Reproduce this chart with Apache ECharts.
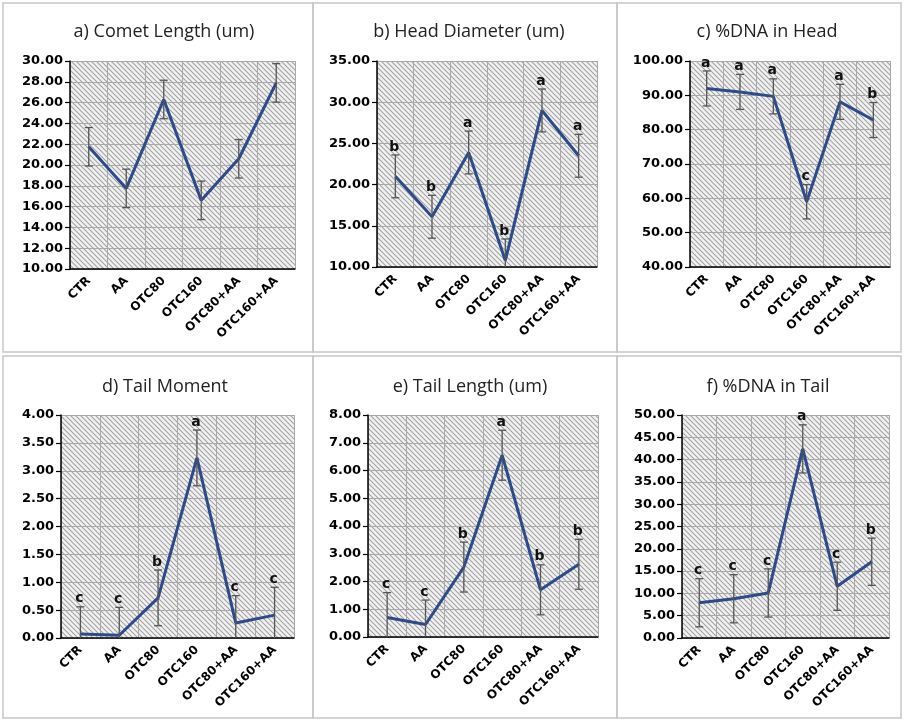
<!DOCTYPE html>
<html>
<head>
<meta charset="utf-8">
<script src="https://cdn.jsdelivr.net/npm/echarts@6/dist/echarts.min.js"></script>
<style>
  html, body { margin: 0; padding: 0; background: #ffffff; }
  #chart { width: 904px; height: 724px; }
</style>
</head>
<body>
<div id="chart"></div>
<script>
// Treatment groups shared by all six panels
const categories = ['CTR', 'AA', 'OTC80', 'OTC160', 'OTC80+AA', 'OTC160+AA'];

// a) Comet length (um)
const cometLength   = [21.75, 17.75, 26.3, 16.6, 20.6, 27.9];
const cometLengthSD = [1.85, 1.85, 1.85, 1.85, 1.85, 1.85];
const cometLengthSig = ['', '', '', '', '', ''];

// b) Head diameter (um)
const headDiameter   = [21.0, 16.1, 23.9, 10.8, 29.0, 23.5];
const headDiameterSD = [2.6, 2.6, 2.6, 2.6, 2.6, 2.6];
const headDiameterSig = ['b', 'b', 'a', 'b', 'a', 'a'];

// c) %DNA in head
const dnaHead   = [92.0, 91.0, 89.7, 59.0, 88.1, 82.8];
const dnaHeadSD = [5.1, 5.1, 5.1, 5.0, 5.1, 5.1];
const dnaHeadSig = ['a', 'a', 'a', 'c', 'a', 'b'];

// d) Tail moment
const tailMoment   = [0.07, 0.05, 0.72, 3.23, 0.27, 0.41];
const tailMomentSD = [0.49, 0.50, 0.50, 0.50, 0.49, 0.50];
const tailMomentSig = ['c', 'c', 'b', 'a', 'c', 'c'];

// e) Tail length (um)
const tailLength   = [0.70, 0.45, 2.52, 6.55, 1.70, 2.62];
const tailLengthSD = [0.90, 0.88, 0.90, 0.90, 0.90, 0.90];
const tailLengthSig = ['c', 'c', 'b', 'a', 'b', 'b'];

// f) %DNA in tail
const dnaTail   = [7.9, 8.8, 10.1, 42.4, 11.6, 17.1];
const dnaTailSD = [5.4, 5.4, 5.4, 5.4, 5.4, 5.3];
const dnaTailSig = ['c', 'c', 'c', 'a', 'c', 'b'];

// Axis ranges and tick steps per panel
const axisMin  = [10, 10, 40, 0, 0, 0];
const axisMax  = [30, 35, 100, 4, 8, 50];
const axisStep = [2, 5, 10, 0.5, 1, 5];

const panelTitles = [
  'a) Comet Length (um)', 'b) Head Diameter (um)', 'c) %DNA in Head',
  'd) Tail Moment', 'e) Tail Length (um)', 'f) %DNA in Tail'
];

const panelMeans = [cometLength, headDiameter, dnaHead, tailMoment, tailLength, dnaTail];
const panelSDs   = [cometLengthSD, headDiameterSD, dnaHeadSD, tailMomentSD, tailLengthSD, dnaTailSD];
const panelSig   = [cometLengthSig, headDiameterSig, dnaHeadSig, tailMomentSig, tailLengthSig, dnaTailSig];

// Plot rectangles (left, top, width, height) and title centres
const gridBoxes = [
  { left: 70,  top: 61,  width: 225, height: 208 },
  { left: 377, top: 61,  width: 220, height: 206 },
  { left: 690, top: 61,  width: 200, height: 206 },
  { left: 61,  top: 415, width: 233, height: 223 },
  { left: 368, top: 415, width: 230, height: 222 },
  { left: 682, top: 415, width: 207, height: 223 }
];
const titleCentres = [[159, 27], [464, 27], [762, 27], [160, 382], [465, 382], [763, 382]];

// Diagonal hatch fill for the plot areas
function hatchPattern() {
  const s = 5;
  const c = document.createElement('canvas');
  c.width = s; c.height = s;
  const ctx = c.getContext('2d');
  ctx.fillStyle = '#f1f1f1';
  ctx.fillRect(0, 0, s, s);
  ctx.strokeStyle = '#a2a2a2';
  ctx.lineWidth = 1.1;
  for (const k of [-s, 0, s]) {
    ctx.beginPath();
    ctx.moveTo(-1, -1 + k);
    ctx.lineTo(s + 1, s + 1 + k);
    ctx.stroke();
  }
  return c;
}
const hatch = { image: hatchPattern(), repeat: 'repeat' };

const grids = [], xAxes = [], yAxes = [], series = [], titles = [];

for (let p = 0; p < 6; p++) {
  const box = gridBoxes[p];
  grids.push({
    left: box.left, top: box.top, width: box.width, height: box.height,
    show: true, backgroundColor: hatch, borderWidth: 0
  });
  titles.push({
    text: panelTitles[p],
    left: titleCentres[p][0], top: titleCentres[p][1],
    textAlign: 'center', textVerticalAlign: 'middle',
    textStyle: { fontFamily: 'Open Sans', fontSize: 18, fontWeight: 'normal', color: '#222' }
  });
  xAxes.push({
    type: 'category', gridIndex: p, data: categories, boundaryGap: true,
    axisLine: { lineStyle: { color: '#000', width: 1.5 } },
    axisTick: { alignWithLabel: true, length: 5, lineStyle: { color: '#000', width: 1.2 } },
    axisLabel: {
      rotate: 45, margin: 10, interval: 0,
      fontFamily: 'DejaVu Sans', fontWeight: 'bold', fontSize: 12, color: '#000'
    },
    splitLine: { show: true, interval: 0, lineStyle: { color: '#a8a8a8', width: 1 } }
  });
  yAxes.push({
    type: 'value', gridIndex: p,
    min: axisMin[p], max: axisMax[p], interval: axisStep[p],
    axisLine: { show: true, lineStyle: { color: '#000', width: 1.5 } },
    axisTick: { show: true, length: 5, lineStyle: { color: '#000', width: 1.2 } },
    axisLabel: {
      margin: 7, formatter: v => v.toFixed(2),
      fontFamily: 'DejaVu Sans', fontWeight: 'bold', fontSize: 13, color: '#000'
    },
    splitLine: { show: true, lineStyle: { color: '#a8a8a8', width: 1 } }
  });

  const means = panelMeans[p], sds = panelSDs[p], sig = panelSig[p];
  const lo = axisMin[p];

  series.push({
    type: 'line', xAxisIndex: p, yAxisIndex: p, data: means,
    symbol: 'none', z: 2,
    lineStyle: { color: '#2d4a8b', width: 3 }
  });

  series.push({
    type: 'custom', xAxisIndex: p, yAxisIndex: p, z: 3,
    data: means.map((m, i) => [i, m, sds[i]]),
    renderItem: function (params, api) {
      const i = api.value(0), m = api.value(1), s = api.value(2);
      const upper = m + s;
      const lower = Math.max(m - s, lo);
      const pt = api.coord([i, upper]);
      const pb = api.coord([i, lower]);
      const x = pt[0], cap = 4;
      const style = { stroke: '#555555', lineWidth: 1.3 };
      const children = [
        { type: 'line', shape: { x1: x, y1: pt[1], x2: x, y2: pb[1] }, style },
        { type: 'line', shape: { x1: x - cap, y1: pt[1], x2: x + cap, y2: pt[1] }, style }
      ];
      if (m - s >= lo) {
        children.push({ type: 'line', shape: { x1: x - cap, y1: pb[1], x2: x + cap, y2: pb[1] }, style });
      }
      const letter = sig[params.dataIndex];
      if (letter) {
        children.push({
          type: 'text', x: x - 1, y: pt[1] - 1,
          style: {
            text: letter, align: 'center', verticalAlign: 'bottom',
            fontFamily: 'DejaVu Sans', fontWeight: 'bold', fontSize: 14, fill: '#111'
          }
        });
      }
      return { type: 'group', children };
    }
  });
}

// Panel frames
const frameStyle = { fill: 'none', stroke: '#c6c6c6', lineWidth: 1.5 };
const frames = [
  [3, 3, 310, 349], [313, 3, 304, 349], [617, 3, 284, 349],
  [3, 356, 310, 362], [313, 356, 304, 362], [617, 356, 284, 362]
].map(r => ({ type: 'rect', shape: { x: r[0], y: r[1], width: r[2], height: r[3] }, style: frameStyle, silent: true }));

const chart = echarts.init(document.getElementById('chart'), null, { renderer: 'canvas' });
chart.setOption({
  backgroundColor: '#ffffff',
  animation: false,
  title: titles,
  grid: grids,
  xAxis: xAxes,
  yAxis: yAxes,
  series: series,
  graphic: frames
});
</script>
</body>
</html>
